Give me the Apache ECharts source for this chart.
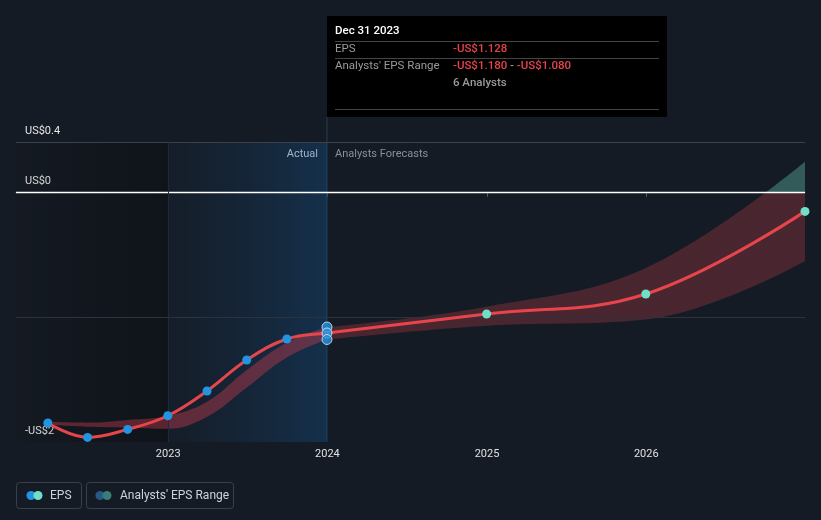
<!DOCTYPE html>
<html><head><meta charset="utf-8">
<script src="https://cdn.jsdelivr.net/npm/echarts@6/dist/echarts.min.js"></script>
<style>html,body{margin:0;padding:0;background:#151b24;}#c{width:821px;height:520px;}</style>
</head><body><div id="c"></div>
<script>
// ---- data ----
const actualDates = ['2022-03-31','2022-06-30','2022-09-30','2022-12-31','2023-03-31','2023-06-30','2023-09-30','2023-12-31'];
const actualEps   = [-1.848, -1.963, -1.899, -1.79, -1.592, -1.344, -1.176, -1.128];
const histLow     = [-1.864, -1.877, -1.885, -1.893, -1.797, -1.563, -1.323, -1.18];
const histHigh    = [-1.838, -1.845, -1.824, -1.79, -1.677, -1.424, -1.205, -1.08];
const forecastDates = ['2024-12-31','2025-12-31','2026-12-31'];
const forecastEps   = [-0.976, -0.816, -0.155];
const rangeDates = ['2023-12-31','2024-12-31','2025-12-31','2026-12-31'];
const rangeLow   = [-1.18, -1.07, -1.02, -0.552];
const rangeHigh  = [-1.08, -0.917, -0.608, 0.242];
const yTickLabels = [[0.4,'US$0.4'],[0,'US$0'],[-2,'-US$2']];
const xMin = '2022-01-17', xMax = '2026-12-31';
const tipDate = 'Dec 31 2023', tipIndex = 7, tipAnalysts = 6;

const FONT = 'Roboto';
const fmt = v => (v < 0 ? '-' : '') + 'US$' + Math.abs(v).toFixed(3);

const chart = echarts.init(document.getElementById('c'), null, {renderer:'canvas'});

function buildOption(y0px, x24px) {
  const fcGrad = y0px == null ? 'rgba(230,70,80,0.25)' :
    new echarts.graphic.LinearGradient(0, 0, 0, 520, [
      {offset:0, color:'rgba(90,180,165,0.42)'},
      {offset:y0px/520, color:'rgba(90,180,165,0.42)'},
      {offset:y0px/520, color:'rgba(230,70,80,0.25)'},
      {offset:1, color:'rgba(230,70,80,0.25)'}], true);
  const lineData = actualDates.map((d,i)=>({value:[d, actualEps[i]], itemStyle:{color:'#2394df'}, symbolSize: i===tipIndex?0:9}))
    .concat(forecastDates.map((d,i)=>({value:[d, forecastEps[i]], itemStyle:{color:'#6ee0c8'}})));
  const graphics = [];
  if (x24px != null) {
    graphics.push({type:'line', shape:{x1:x24px, y1:117, x2:x24px, y2:442}, style:{stroke:'#2a3d52', lineWidth:1}, z:1});
    graphics.push({type:'text', style:{x:x24px-9, y:154, text:'Actual', fill:'#e6e6e6', font:'11px '+FONT, align:'right', verticalAlign:'middle'}});
    graphics.push({type:'text', style:{x:x24px+8, y:154, text:'Analysts Forecasts', fill:'#8a8f98', font:'11px '+FONT, align:'left', verticalAlign:'middle'}});
    const tx = x24px;
    graphics.push({type:'group', x:tx, y:16, z:100, children:[
      {type:'rect', shape:{x:0,y:0,width:340,height:101}, style:{fill:'#000'}},
      {type:'text', style:{x:8,y:15,text:tipDate, fill:'#fff', font:'500 11.5px '+FONT, verticalAlign:'middle'}},
      {type:'line', shape:{x1:8,y1:25.5,x2:332,y2:25.5}, style:{stroke:'#444', lineWidth:1}},
      {type:'text', style:{x:8,y:33.5,text:'EPS', fill:'#9a9a9a', font:'11.5px '+FONT, verticalAlign:'middle'}},
      {type:'text', style:{x:126,y:33.5,text:fmt(actualEps[tipIndex]), fill:'#e8434a', font:'500 11.5px '+FONT, verticalAlign:'middle'}},
      {type:'line', shape:{x1:8,y1:42.5,x2:332,y2:42.5}, style:{stroke:'#444', lineWidth:1}},
      {type:'text', style:{x:8,y:50.5,text:"Analysts' EPS Range", fill:'#9a9a9a', font:'11.5px '+FONT, verticalAlign:'middle'}},
      {type:'text', style:{x:126,y:50.5,text:'{r|'+fmt(histLow[tipIndex])+'}{g| - }{r|'+fmt(histHigh[tipIndex])+'}', font:'500 11.5px '+FONT, verticalAlign:'middle',
        rich:{r:{fill:'#e8434a', font:'500 11.5px '+FONT}, g:{fill:'#9a9a9a', font:'500 11.5px '+FONT}}}},
      {type:'text', style:{x:126,y:67,text:tipAnalysts+' Analysts', fill:'#9a9a9a', font:'500 11.5px '+FONT, verticalAlign:'middle'}},
      {type:'line', shape:{x1:8,y1:93.5,x2:332,y2:93.5}, style:{stroke:'#444', lineWidth:1}}
    ]});
  }
  // legend
  graphics.push({type:'group', x:16, y:482, children:[
    {type:'rect', shape:{x:0.5,y:0.5,width:65,height:26,r:3}, style:{fill:'none', stroke:'#3a3f4a', lineWidth:1}},
    {type:'circle', shape:{cx:15,cy:13.5,r:4.5}, style:{fill:'#2394df'}},
    {type:'circle', shape:{cx:22,cy:13.5,r:4.5}, style:{fill:'#6ee0c8'}},
    {type:'text', style:{x:34,y:13.5,text:'EPS', fill:'#cfd3d8', font:'12px '+FONT, verticalAlign:'middle'}},
    {type:'rect', shape:{x:70.5,y:0.5,width:147,height:26,r:3}, style:{fill:'none', stroke:'#3a3f4a', lineWidth:1}},
    {type:'circle', shape:{cx:84,cy:13.5,r:4.5}, style:{fill:'#245a86'}},
    {type:'circle', shape:{cx:91,cy:13.5,r:4.5}, style:{fill:'#3b7d76'}},
    {type:'text', style:{x:104,y:13.5,text:"Analysts' EPS Range", fill:'#cfd3d8', font:'12px '+FONT, verticalAlign:'middle'}}
  ]});

  return {
    backgroundColor:'#151b24',
    animation:false,
    grid:{left:16, right:16, top:142, bottom:78},
    xAxis:{type:'time', min:xMin, max:xMax,
      minInterval:360*86400000,
      axisLine:{lineStyle:{color:'#50555e', width:1}},
      axisTick:{show:true, length:5, lineStyle:{color:'#50555e'}},
      splitLine:{show:false},
      axisLabel:{color:'#e0e0e0', fontSize:11, fontFamily:FONT, margin:7, formatter:'{yyyy}'}
    },
    yAxis:{type:'value', min:-2, max:0.4, interval:0.2,
      axisLine:{show:false}, axisTick:{show:false}, splitLine:{show:false},
      axisLabel:{inside:true, margin:9, verticalAlign:'bottom', padding:[0,0,5,0], color:'#e6e6e6', fontSize:11, fontFamily:FONT,
        formatter:v=>{const t=yTickLabels.find(p=>Math.abs(p[0]-v)<1e-6); return t?t[1]:'';}}
    },
    graphic: graphics,
    series:[
      {type:'line', name:'histBase', stack:'h', stackStrategy:'all', smooth:0.4, symbol:'none', silent:true,
        lineStyle:{opacity:0}, data:actualDates.map((d,i)=>[d,histLow[i]]), z:2,
        markArea:{silent:true, data:[
          [{xAxis:xMin, itemStyle:{color:new echarts.graphic.LinearGradient(0,0,1,0,[{offset:0,color:'rgba(0,0,0,0.05)'},{offset:1,color:'rgba(0,0,0,0.28)'}])}},{xAxis:'2022-12-31'}],
          [{xAxis:'2022-12-31', itemStyle:{color:new echarts.graphic.LinearGradient(0,0,1,0,[{offset:0,color:'rgba(20,60,100,0.08)'},{offset:1,color:'rgba(20,80,135,0.4)'}])}},{xAxis:'2023-12-31'}]
        ]},
        markLine:{silent:true, symbol:'none', label:{show:false}, data:[
          {yAxis:0.4, lineStyle:{color:'#3c424c', width:1, type:'solid'}},
          {yAxis:0, lineStyle:{color:'#ffffff', width:1.3, type:'solid'}},
          {yAxis:-1, lineStyle:{color:'#2d333c', width:1, type:'solid'}},
          {xAxis:'2022-12-31', lineStyle:{color:'#1b2c40', width:1, type:'solid'}}
        ]}
      },
      {type:'line', name:'histBand', stack:'h', stackStrategy:'all', smooth:0.4, symbol:'none', silent:true,
        lineStyle:{opacity:0}, areaStyle:{color:'rgba(200,60,78,0.42)', opacity:1}, z:2,
        data:actualDates.map((d,i)=>[d,histHigh[i]-histLow[i]])},
      {type:'line', name:'fcBase', stack:'f', stackStrategy:'all', smooth:0.4, symbol:'none', silent:true,
        lineStyle:{opacity:0}, data:rangeDates.map((d,i)=>[d,rangeLow[i]]), z:2},
      {type:'line', name:'fcBand', stack:'f', stackStrategy:'all', smooth:0.4, symbol:'none', silent:true,
        lineStyle:{opacity:0}, areaStyle:{color:fcGrad, opacity:1}, z:2,
        data:rangeDates.map((d,i)=>[d,rangeHigh[i]-rangeLow[i]])},
      {type:'line', name:'EPS', smooth:0.4, symbol:'circle', symbolSize:9, showAllSymbol:true,
        lineStyle:{color:'#e5454b', width:3}, z:5, data:lineData},
      {type:'scatter', name:'tip', symbolSize:10, z:6,
        itemStyle:{color:'#2394df', borderColor:'#d8ecff', borderWidth:1},
        data:[[actualDates[tipIndex], histHigh[tipIndex]],[actualDates[tipIndex], actualEps[tipIndex]],[actualDates[tipIndex], histLow[tipIndex]]]}
    ]
  };
}

chart.setOption(buildOption(null, null));
const y0 = chart.convertToPixel({yAxisIndex:0}, 0);
const x24 = chart.convertToPixel({xAxisIndex:0}, actualDates[tipIndex]);
chart.setOption(buildOption(y0, x24), true);
</script></body></html>
